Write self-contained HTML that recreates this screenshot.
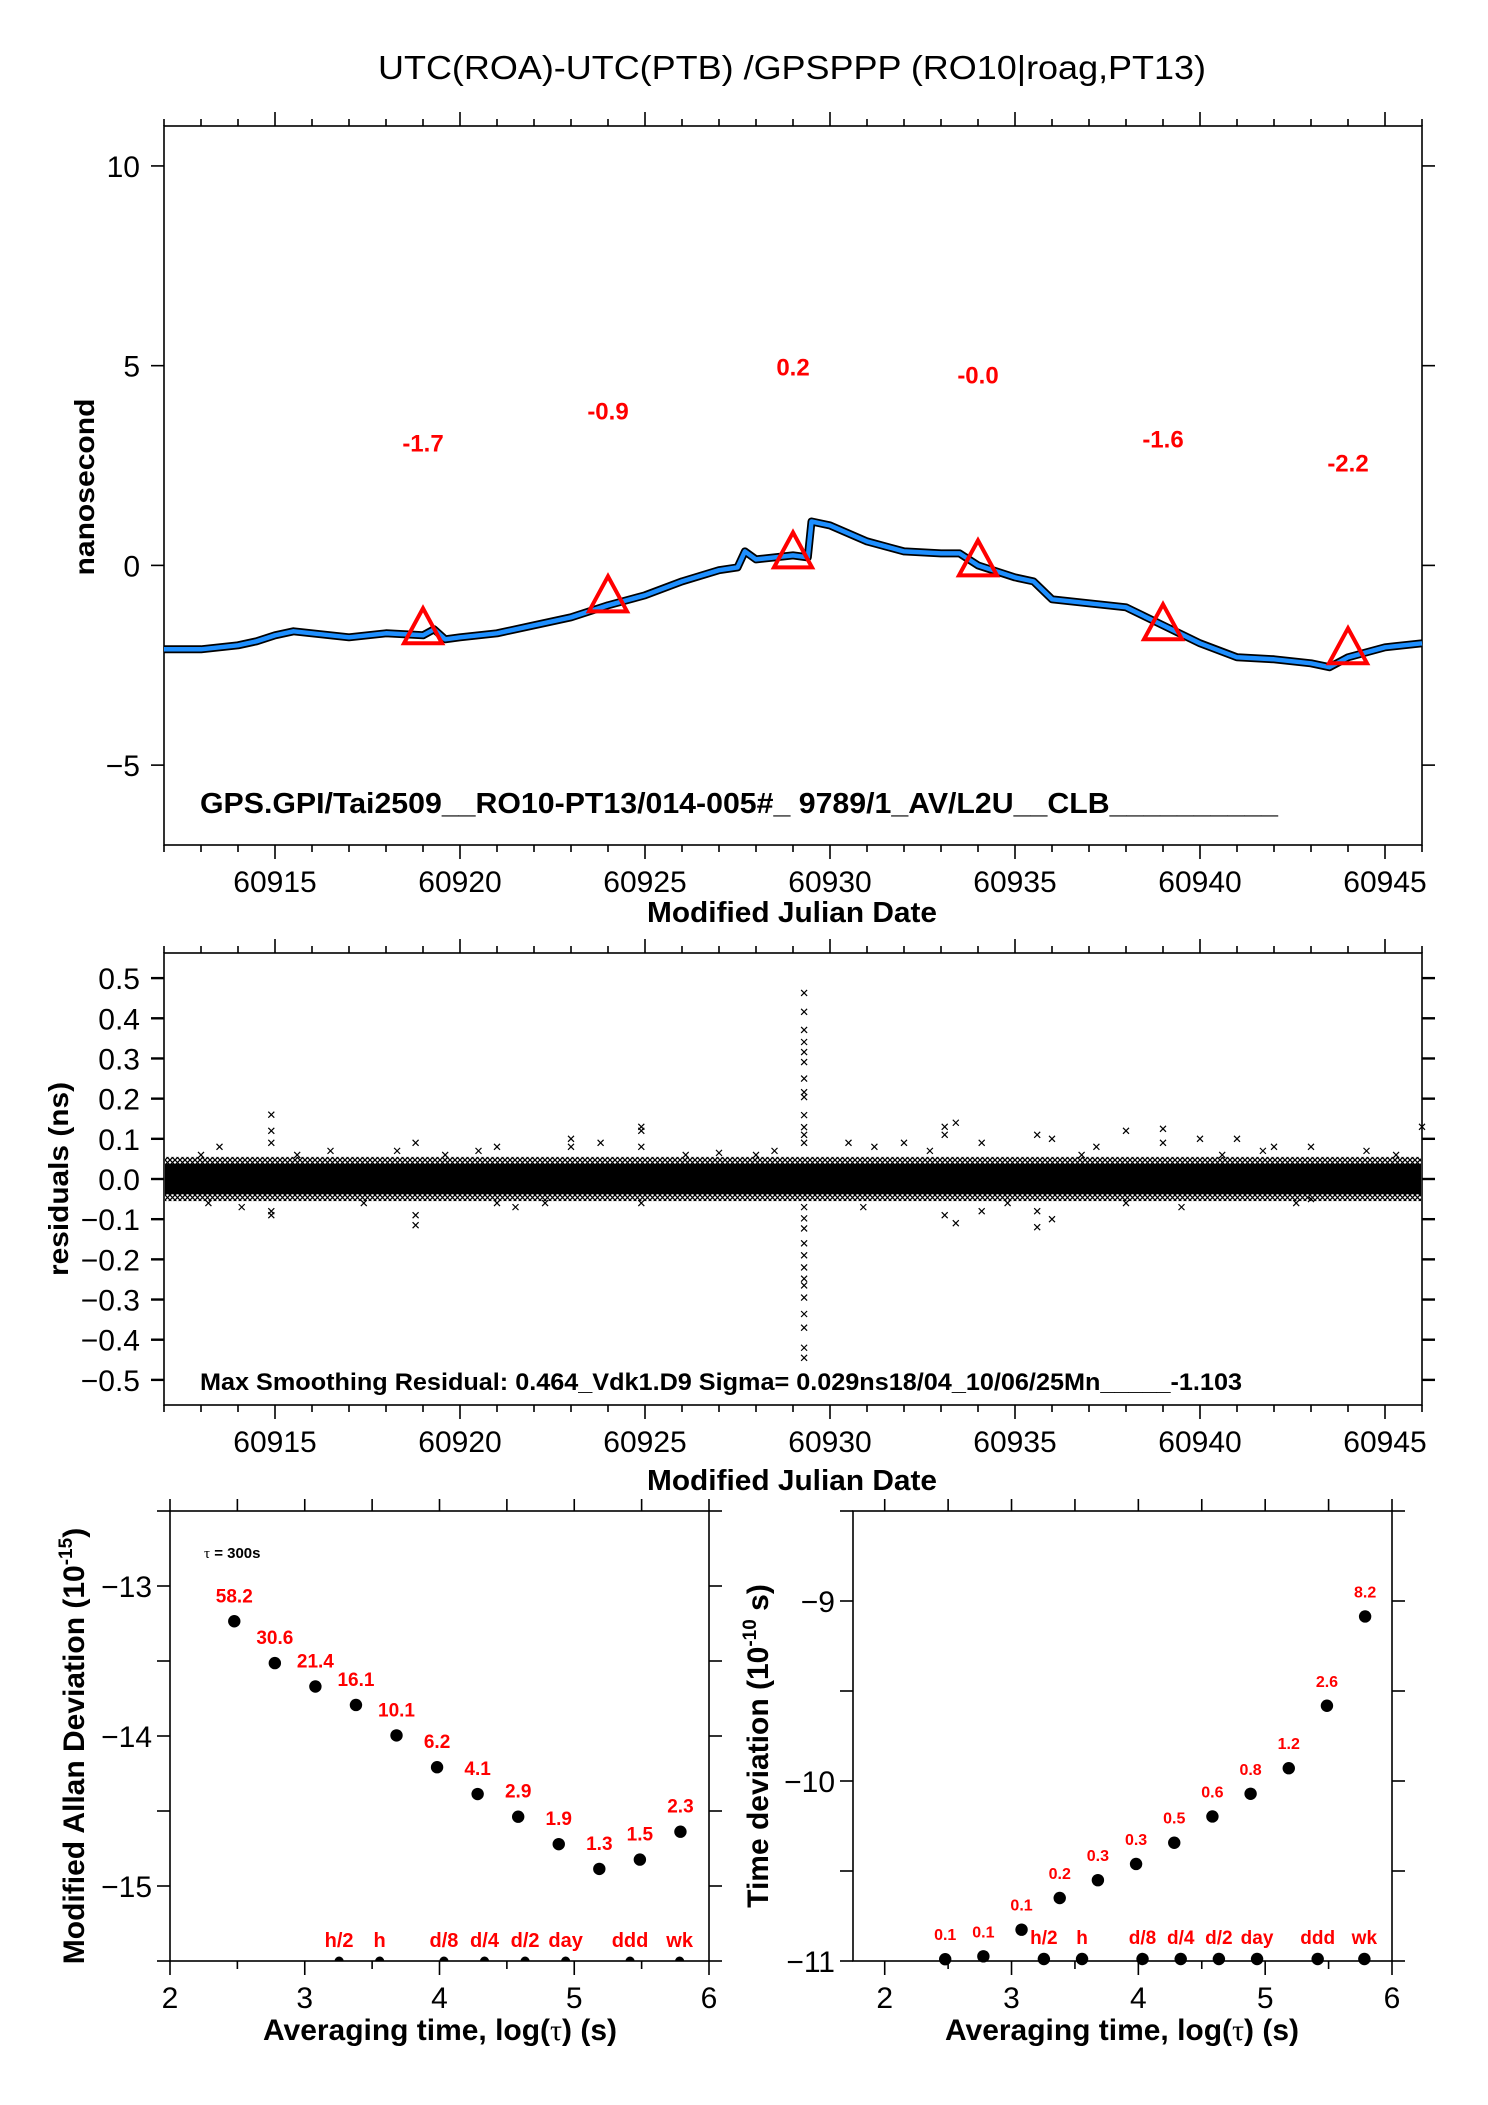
<!DOCTYPE html>
<html><head><meta charset="utf-8"><title>UTC(ROA)-UTC(PTB) GPSPPP</title>
<style>
html,body{margin:0;padding:0;background:#fff;}
svg{display:block;font-family:"Liberation Sans",sans-serif;}
</style></head>
<body>
<svg id="chart" xmlns="http://www.w3.org/2000/svg" width="1488" height="2105" viewBox="0 0 1488 2105">
<defs>
<pattern id="xpat" width="5" height="5" patternUnits="userSpaceOnUse">
<path d="M0,0L5,5M5,0L0,5" stroke="#000" stroke-width="1.3"/>
</pattern>
<clipPath id="clipAdev"><rect x="170" y="1511" width="539" height="450"/></clipPath>
</defs>
<text x="792" y="79" text-anchor="middle" font-size="33" textLength="828" lengthAdjust="spacingAndGlyphs">UTC(ROA)-UTC(PTB)  /GPSPPP  (RO10|roag,PT13)</text>
<g id="g1"></g>
<g id="g2"></g>
<g id="g3"></g>
<g id="g4"></g>
</svg>
<script>
// ---------- DATA ----------
const curveMjd = [60912,60913,60914,60914.5,60915,60915.5,60916,60917,60918,60919,60919.3,60919.6,60920,60921,60922,60923,60924,60925,60926,60927,60927.5,60927.7,60928,60929,60929.4,60929.5,60930,60931,60932,60933,60933.5,60934,60935,60935.5,60936,60937,60938,60939,60940,60941,60942,60943,60943.5,60944,60945,60946];
const curveNs  = [-2.1,-2.1,-2.0,-1.9,-1.75,-1.65,-1.7,-1.8,-1.7,-1.75,-1.6,-1.85,-1.8,-1.7,-1.5,-1.3,-1.0,-0.75,-0.4,-0.12,-0.05,0.35,0.15,0.25,0.2,1.1,1.0,0.6,0.35,0.3,0.3,0.0,-0.3,-0.4,-0.85,-0.95,-1.05,-1.5,-1.95,-2.3,-2.35,-2.45,-2.55,-2.3,-2.05,-1.95];
const triMjd = [60919,60924,60929,60934,60939,60944];
const triNs  = [-1.7,-0.9,0.2,-0.0,-1.6,-2.2];
const triLabels = ["-1.7","-0.9","0.2","-0.0","-1.6","-2.2"];
const mjdTicks = [60915,60920,60925,60930,60935,60940,60945];
const nsTicks = [10,5,0,-5];
const outMjd = [60929.3,60929.3,60929.3,60929.3,60929.3,60929.3,60929.3,60929.3,60929.3,60929.3,60929.3,60929.3,60929.3,60929.3,60929.3,60929.3,60929.3,60929.3,60929.3,60929.3,60929.3,60929.3,60929.3,60929.3,60929.3,60929.3,
 60914.9,60914.9,60914.9,60914.9,60914.9,60918.8,60918.8,60918.8,60924.9,60924.9,60924.9,60924.9,60923,60923,60923.8,60921,60921,60921.5,
 60933.1,60933.1,60933.1,60933.4,60933.4,60934.1,60934.1,60935.6,60935.6,60935.6,60936,60936,60938,60938,60939,60939,60940,60941,60942,60943,60943,60946,60913.5,60914.1,60913,60916.5,60918.3,60927,60928.5,60930.5,60931.2,60932,60937.2,60941.7,60944.5,60913.2,60915.6,60917.4,60919.6,60920.5,60922.3,60926.1,60928,60930.9,60932.7,60934.8,60936.8,60939.5,60940.6,60942.6,60945.3];
const outNs  = [0.463,0.416,0.371,0.341,0.316,0.291,0.25,0.216,0.204,0.159,0.129,0.11,0.09,-0.07,-0.098,-0.123,-0.16,-0.19,-0.22,-0.248,-0.265,-0.295,-0.336,-0.37,-0.42,-0.445,
 0.16,0.12,0.09,-0.08,-0.09,0.09,-0.09,-0.115,0.13,0.12,0.08,-0.06,0.1,0.08,0.09,0.08,-0.06,-0.07,
 0.13,0.11,-0.09,0.14,-0.11,0.09,-0.08,0.11,-0.12,-0.08,0.1,-0.1,0.12,-0.06,0.125,0.09,0.1,0.1,0.08,0.08,-0.05,0.13,0.08,-0.07,0.06,0.07,0.07,0.065,0.07,0.09,0.08,0.09,0.08,0.07,0.07,-0.06,0.06,-0.06,0.06,0.07,-0.06,0.06,0.06,-0.07,0.07,-0.06,0.06,-0.07,0.06,-0.06,0.06];
const resTicks = [0.5,0.4,0.3,0.2,0.1,0.0,-0.1,-0.2,-0.3,-0.4,-0.5];
const adevLogTau = [2.477,2.778,3.079,3.380,3.681,3.982,4.283,4.584,4.885,5.186,5.487,5.788];
const adevLog    = [-13.235,-13.514,-13.670,-13.793,-13.996,-14.208,-14.387,-14.538,-14.721,-14.886,-14.824,-14.638];
const adevLabels = ["58.2","30.6","21.4","16.1","10.1","6.2","4.1","2.9","1.9","1.3","1.5","2.3"];
const tdevLogTau = [2.477,2.778,3.079,3.380,3.681,3.982,4.283,4.584,4.885,5.186,5.487,5.788];
const tdevLog    = [-10.99,-10.974,-10.826,-10.650,-10.551,-10.461,-10.343,-10.197,-10.071,-9.929,-9.582,-9.086];
const tdevLabels = ["0.1","0.1","0.1","0.2","0.3","0.3","0.5","0.6","0.8","1.2","2.6","8.2"];
const spanLogTau = [3.255,3.556,4.033,4.334,4.635,4.936,5.414,5.782];
const spanLabels = ["h/2","h","d/8","d/4","d/2","day","ddd","wk"];
const tauTicks = [2,3,4,5,6];
const adevTicks = [-13,-14,-15];
const tdevTicks = [-9,-10,-11];

// ---------- HELPERS ----------
const NS='http://www.w3.org/2000/svg';
function mk(parent,tag,attrs,text){const e=document.createElementNS(NS,tag);for(const k in attrs)e.setAttribute(k,attrs[k]);if(text!==undefined)e.textContent=text;parent.appendChild(e);return e;}
function lin(d0,d1,r0,r1){return v=>r0+(v-d0)*(r1-r0)/(d1-d0);}
function frame(g,L,T,R,B,name){
  const r=mk(g,'rect',{x:L,y:T,width:R-L,height:B-T,fill:'none',stroke:'#000','stroke-width':1.6});
  
  
}
function xTicksAt(g,vals,sx,T,B,len){
  vals.forEach(v=>{const x=sx(v);
    mk(g,'line',{x1:x,y1:T,x2:x,y2:T-len,stroke:'#000','stroke-width':1.6});
    mk(g,'line',{x1:x,y1:B,x2:x,y2:B+len,stroke:'#000','stroke-width':1.6});});
}
function yTicksAt(g,vals,sy,L,R,len,w){
  vals.forEach(v=>{const y=sy(v);
    mk(g,'line',{x1:L,y1:y,x2:L-len,y2:y,stroke:'#000','stroke-width':w||1.6});
    mk(g,'line',{x1:R,y1:y,x2:R+len,y2:y,stroke:'#000','stroke-width':w||1.6});});
}
function range(a,b,s){const o=[];for(let v=a;v<=b+1e-9;v+=s)o.push(+v.toFixed(4));return o;}
function fmtTick(v,dec){let s=v.toFixed(dec);if(v<0)s='\u2212'+s.slice(1);return s;}

// ---------- PLOT 1 ----------
(function(){
  const g=document.getElementById('g1');
  const L=164,R=1422,T=126,B=845;
  const sx=lin(60912,60946,L,R), sy=lin(-7,11,B,T);
  frame(g,L,T,R,B,'time-series');
  const days=range(60912,60946,1);
  xTicksAt(g,days.filter(d=>d%5!==0),sx,T,B,7);
  xTicksAt(g,mjdTicks,sx,T,B,14);
  yTicksAt(g,nsTicks,sy,L,R,13);
  mjdTicks.forEach(v=>{const t=mk(g,'text',{x:sx(v),y:892,'text-anchor':'middle','font-size':30},String(v));
    
    });
  nsTicks.forEach(v=>{const t=mk(g,'text',{x:140,y:sy(v)+11,'text-anchor':'end','font-size':30},fmtTick(v,0));
    
    });
  const yl=mk(g,'text',{x:0,y:0,transform:'translate(94,487) rotate(-90)','text-anchor':'middle','font-size':28,'font-weight':'bold',textLength:177,lengthAdjust:'spacingAndGlyphs'},'nanosecond');
  
  
  const xl=mk(g,'text',{x:792,y:922,'text-anchor':'middle','font-size':29,'font-weight':'bold',textLength:290,lengthAdjust:'spacingAndGlyphs'},'Modified Julian Date');
  
  
  const info=mk(g,'text',{x:200,y:813,'font-size':29,'font-weight':'bold',textLength:1078,lengthAdjust:'spacingAndGlyphs'},'GPS.GPI/Tai2509__RO10-PT13/014-005#_  9789/1_AV/L2U__CLB__________');
  
  
  let d='';curveMjd.forEach((m,i)=>{d+=(i?'L':'M')+sx(m).toFixed(1)+','+sy(curveNs[i]).toFixed(1);});
  const noise=mk(g,'path',{d:d,fill:'none',stroke:'#000','stroke-width':8,'stroke-linejoin':'round'});
  
  
  const line=mk(g,'path',{d:d,fill:'none',stroke:'#1e8fff','stroke-width':4.5,'stroke-linejoin':'round'});
  
  
  triMjd.forEach((m,i)=>{const x=sx(m),y=sy(triNs[i]);
    const p=mk(g,'polygon',{points:`${x},${y-25} ${x-19},${y+10} ${x+19},${y+10}`,fill:'none',stroke:'#ff0000','stroke-width':4});
    
    
    const t=mk(g,'text',{x:x,y:sy(triNs[i]+4.55),'text-anchor':'middle','font-size':24,'font-weight':'bold',fill:'#ff0000'},triLabels[i]);
    
    });
})();

// ---------- PLOT 2 ----------
(function(){
  const g=document.getElementById('g2');
  const L=164,R=1422,T=953,B=1405;
  const sx=lin(60912,60946,L,R), sy=lin(-0.5625,0.5625,B,T);
  frame(g,L,T,R,B,'residuals');
  const days=range(60912,60946,1);
  xTicksAt(g,days.filter(d=>d%5!==0),sx,T,B,7);
  xTicksAt(g,mjdTicks,sx,T,B,14);
  yTicksAt(g,resTicks,sy,L,R,13,2.4);
  const band2=mk(g,'rect',{x:L+1,y:sy(0.055),width:R-L-2,height:sy(-0.055)-sy(0.055),fill:'url(#xpat)'});
  
  
  const band=mk(g,'rect',{x:L+1,y:sy(0.038),width:R-L-2,height:sy(-0.038)-sy(0.038),fill:'#000'});
  
  
  outMjd.forEach((m,i)=>{const x=sx(m),y=sy(outNs[i]);
    const p=mk(g,'path',{d:`M${x-3},${y-3}L${x+3},${y+3}M${x+3},${y-3}L${x-3},${y+3}`,stroke:'#000','stroke-width':1.2});
    
    });
  mjdTicks.forEach(v=>{const t=mk(g,'text',{x:sx(v),y:1452,'text-anchor':'middle','font-size':30},String(v));
    
    });
  resTicks.forEach(v=>{const t=mk(g,'text',{x:140,y:sy(v)+11,'text-anchor':'end','font-size':30},fmtTick(v,1));
    
    });
  const yl=mk(g,'text',{x:0,y:0,transform:'translate(68,1179) rotate(-90)','text-anchor':'middle','font-size':28,'font-weight':'bold',textLength:194,lengthAdjust:'spacingAndGlyphs'},'residuals (ns)');
  
  
  const xl=mk(g,'text',{x:792,y:1490,'text-anchor':'middle','font-size':29,'font-weight':'bold',textLength:290,lengthAdjust:'spacingAndGlyphs'},'Modified Julian Date');
  
  
  const info=mk(g,'text',{x:200,y:1390,'font-size':24,'font-weight':'bold',textLength:1042,lengthAdjust:'spacingAndGlyphs'},'Max Smoothing Residual: 0.464_Vdk1.D9  Sigma= 0.029ns18/04_10/06/25Mn_____-1.103');
  
  
})();

// ---------- PLOT 3 & 4 ----------
function devPlot(gid,L,R,T,B,xmin,ymin,ymax,logTau,logVal,labels,labelSize,yTicks,yMinor,yTitle,yTitleX,xTitleX,halfDots,spanY,spanSize){
  const g=document.getElementById(gid);
  const sx=lin(xmin,6,L,R), sy=lin(ymin,ymax,B,T);
  frame(g,L,T,R,B,gid);
  const half=range(2.5,5.5,1), ints=tauTicks;
  half.forEach(v=>{const x=sx(v);mk(g,'line',{x1:x,y1:T,x2:x,y2:T-12,stroke:'#000','stroke-width':1.6});mk(g,'line',{x1:x,y1:B,x2:x,y2:B+8,stroke:'#000','stroke-width':1.6});});
  ints.forEach(v=>{const x=sx(v);mk(g,'line',{x1:x,y1:T,x2:x,y2:T-12,stroke:'#000','stroke-width':1.6});mk(g,'line',{x1:x,y1:B,x2:x,y2:B+14,stroke:'#000','stroke-width':1.6});});
  yTicksAt(g,yMinor,sy,L,R,13);
  tauTicks.forEach(v=>{const t=mk(g,'text',{x:sx(v),y:2008,'text-anchor':'middle','font-size':30},String(v));
    
    });
  yTicks.forEach(v=>{const t=mk(g,'text',{x:L-18,y:sy(v)+11,'text-anchor':'end','font-size':30},fmtTick(v,0));
    
    });
  logTau.forEach((lt,i)=>{const x=sx(lt),y=sy(logVal[i]);
    const c=mk(g,'circle',{cx:x,cy:y,r:6.2,fill:'#000'});
    
    
    const t=mk(g,'text',{x:x,y:y-19,'text-anchor':'middle','font-size':labelSize,'font-weight':'bold',fill:'#ff0000'},labels[i]);
    
    });
  spanLogTau.forEach((lt,i)=>{const x=sx(lt);
    const c=mk(g,'circle',halfDots?{cx:x,cy:B,r:4.5,fill:'#000','clip-path':'url(#clipAdev)'}:{cx:x,cy:B-2,r:6.2,fill:'#000'});
    
    
    const t=mk(g,'text',{x:x,y:spanY,'text-anchor':'middle','font-size':spanSize,'font-weight':'bold',fill:'#ff0000'},spanLabels[i]);
    
    });
  const xl=mk(g,'text',{x:xTitleX,y:2040,'text-anchor':'middle','font-size':30,'font-weight':'bold',textLength:354,lengthAdjust:'spacingAndGlyphs'});
  
  
  xl.appendChild(document.createTextNode('Averaging time, log('));
  mk(xl,'tspan',{'font-family':'Liberation Serif, serif','font-weight':'normal'},'\u03c4');
  xl.appendChild(document.createTextNode(') (s)'));
  const yl=mk(g,'text',{x:0,y:0,transform:`translate(${yTitleX},${(T+B)/2+10}) rotate(-90)`,'text-anchor':'middle','font-size':30,'font-weight':'bold'});
  
  
  yl.appendChild(document.createTextNode(yTitle[0]));
  mk(yl,'tspan',{'font-size':19,dy:-12},yTitle[1]);
  mk(yl,'tspan',{dy:12},yTitle[2]);
  return g;
}
const g3=devPlot('g3',170,709,1511,1961,2,-15.5,-12.5,adevLogTau,adevLog,adevLabels,19,adevTicks,range(-15.5,-12.5,0.5),['Modified Allan Deviation (10','-15',')'],84,440,true,1947,20);
const tl=mk(g3,'text',{x:204,y:1558,'font-size':15,'font-weight':'bold'});


mk(tl,'tspan',{'font-family':'Liberation Serif, serif','font-weight':'normal'},'\u03c4');
tl.appendChild(document.createTextNode(' = 300s'));
devPlot('g4',853,1392,1511,1961,1.75,-11,-8.5,tdevLogTau,tdevLog,tdevLabels,16,tdevTicks,range(-11,-8.5,0.5),['Time deviation (10','-10',' s)'],768,1122,false,1944,19);
</script>
</body></html>
